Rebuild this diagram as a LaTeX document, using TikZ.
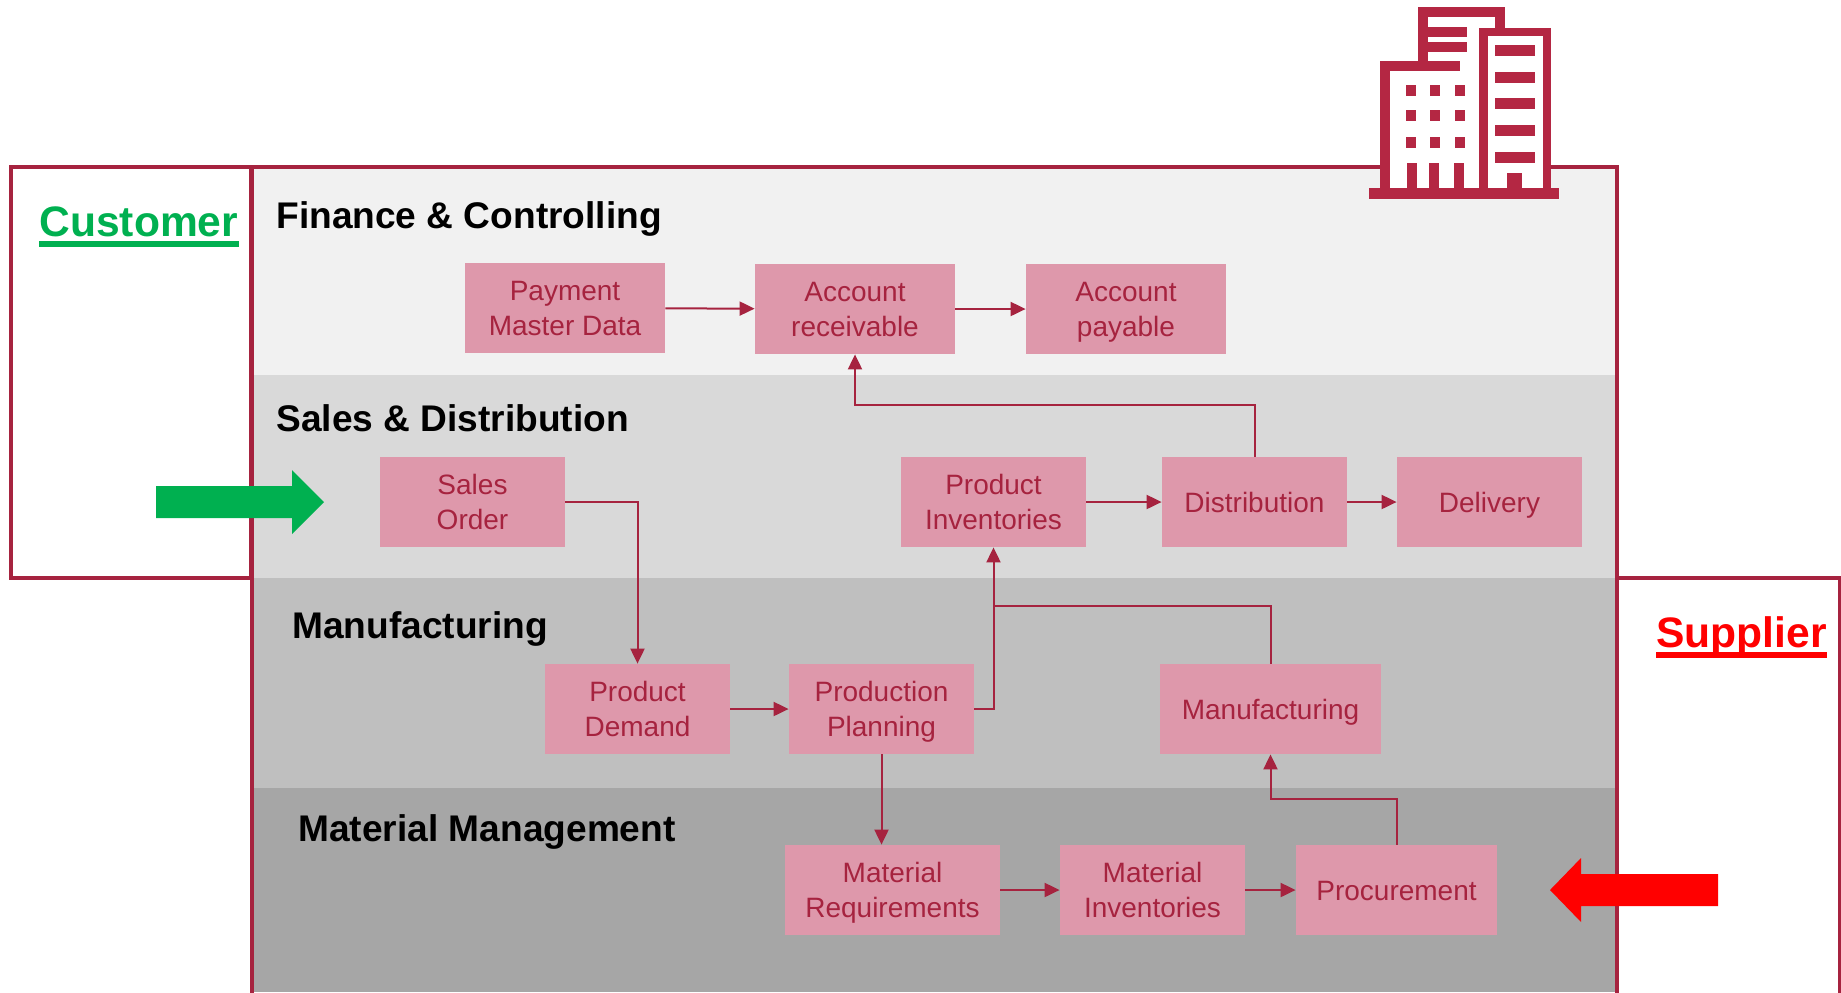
\documentclass[tikz,border=0pt]{standalone}
\usepackage{fontspec}
\setmainfont{Liberation Sans}
\usetikzlibrary{arrows.meta,positioning}
\definecolor{crimson}{HTML}{A6233F}
\definecolor{iconred}{HTML}{B42743}
\definecolor{boxpink}{HTML}{DE98AB}
\definecolor{custgreen}{HTML}{00B050}
\tikzset{
  procbox/.style={fill=boxpink,text=crimson,align=center,inner sep=0pt,minimum height=45pt,
    font=\fontsize{14pt}{17.5pt}\selectfont,execute at begin node=\rule[-3pt]{0pt}{16pt}},
  twoline/.style={procbox,execute at begin node=\rule[-3pt]{0pt}{33.5pt}},
  flow/.style={draw=crimson,line width=1pt,-{Triangle[length=7.5pt,width=7pt]}},
  frame/.style={draw=crimson,line width=2pt},
  heading/.style={anchor=base west,inner sep=0pt,font=\fontsize{18.55pt}{22pt}\selectfont\bfseries},
  partner/.style={anchor=base west,inner sep=0pt,font=\fontsize{21.3pt}{25pt}\selectfont\bfseries},
  icon/.style={fill=iconred,draw=none},
}
\begin{document}
\begin{tikzpicture}[x=0.5pt,y=-0.5pt]
  \useasboundingbox (0,0) rectangle (1841,992);
  % bands
  \fill[fill=black!5.5] (252,168) rectangle (1617,375);
  \fill[fill=black!15] (252,375) rectangle (1617,578);
  \fill[fill=black!25] (252,578) rectangle (1617,788);
  \fill[fill=black!35] (252,788) rectangle (1617,992);
  \draw[frame] (11,167) rectangle (251,578);
  \draw[frame] (252,167) rectangle (1617,1000);
  \draw[frame] (1617,578) rectangle (1840,1000);
  % band titles
  \node[heading] (finance) at (276,228) {Finance \& Controlling};
  \node[heading] (sales) at (276,431) {Sales \& Distribution};
  \node[heading] (manuf) at (292,638) {Manufacturing};
  \node[heading] (material) at (298,841) {Material Management};
  \node[partner,text=custgreen] (customer) at (39,236) {Customer};
  \node[partner,text=red] (supplier) at (1656,647) {Supplier};
  \draw[custgreen,line width=3pt] ([yshift=-4pt]customer.base west) -- ([yshift=-4pt]customer.base east);
  \draw[red,line width=3pt] ([yshift=-4pt]supplier.base west) -- ([yshift=-4pt]supplier.base east);
  % process boxes
  \node[twoline,minimum width=100pt] (paydata) at (565,308) {Payment\\Master Data};
  \node[twoline,minimum width=100pt] (receivable) at (855,309) {Account\\receivable};
  \node[twoline,minimum width=100pt] (payable) at (1126,309) {Account\\payable};
  \node[twoline,minimum width=92.5pt] (salesorder) at (472.5,502) {Sales\\Order};
  \node[twoline,minimum width=92.5pt] (prodinv) at (993.5,502) {Product\\Inventories};
  \node[procbox,minimum width=92.5pt] (distrib) at (1254.5,502) {Distribution};
  \node[procbox,minimum width=92.5pt] (delivery) at (1489.5,502) {Delivery};
  \node[twoline,minimum width=92.5pt] (demand) at (637.5,709) {Product\\Demand};
  \node[twoline,minimum width=92.5pt] (planning) at (881.5,709) {Production\\Planning};
  \node[procbox,minimum width=110.5pt] (making) at (1270.5,709) {Manufacturing};
  \node[twoline,minimum width=107.5pt] (matreq) at (892.5,890) {Material\\Requirements};
  \node[twoline,minimum width=92.5pt] (matinv) at (1152.5,890) {Material\\Inventories};
  \node[procbox,minimum width=100.5pt] (procure) at (1396.5,890) {Procurement};
  % flows
  \draw[flow] (paydata) -- (receivable);
  \draw[flow] (receivable) -- (payable);
  \draw[flow] (distrib.north) -- ++(0,-52) -| (receivable.south);
  \draw[flow] (salesorder.east) -| (demand.north);
  \draw[flow] (prodinv) -- (distrib);
  \draw[flow] (distrib) -- (delivery);
  \draw[flow] (demand) -- (planning);
  \draw[flow] (planning.east) -| (prodinv.south);
  \coordinate (joinup) at (prodinv.south |- 0,606);
  \draw[draw=crimson,line width=1pt] (making.north) |- (joinup);
  \draw[flow] (planning.south) -- (planning.south |- matreq.north);
  \draw[flow] (matreq) -- (matinv);
  \draw[flow] (matinv) -- (procure);
  \draw[flow] (procure.north) -- ++(0,-46) -| (making.south);
  % in and out arrows
  \fill[custgreen] (156,486) -- (292,486) -- (292,470) -- (324,502) -- (292,534) -- (292,518) -- (156,518) -- cycle;
  \fill[red] (1718,874) -- (1581,874) -- (1581,858) -- (1550,890) -- (1581,922) -- (1581,906) -- (1718,906) -- cycle;
  % building
  \begin{scope}[shift={(1340,0)},x=0.16667pt,y=-0.16667pt]
    \fill[white] (120,183) rectangle (634,570);
    \fill[white] (233,20) rectangle (495,183);
    \fill[icon] (233,20) rectangle (495,50);
    \fill[icon] (233,20) rectangle (264,185);
    \fill[icon] (464,20) rectangle (495,85);
    \fill[icon] (264,80) rectangle (380,110);
    \fill[icon] (264,127) rectangle (380,157);
    \fill[icon] (120,183) rectangle (360,213);
    \fill[icon] (120,183) rectangle (151,570);
    \foreach \wx in {198,270,345}
      \foreach \wy in {255,330,411}
        \fill[icon] (\wx,\wy) rectangle (\wx+30,\wy+33);
    \foreach \dx in {200,268,342}
      \fill[icon] (\dx,490) rectangle (\dx+30,570);
    \fill[icon] (417,83) rectangle (634,108);
    \fill[icon] (417,83) rectangle (443,570);
    \fill[icon] (608,83) rectangle (634,570);
    \foreach \ry in {135,216,294,375,456}
      \fill[icon] (465,\ry) rectangle (585,\ry+33);
    \fill[icon] (502,519) rectangle (547,570);
    \fill[icon] (88,565) rectangle (658,596);
  \end{scope}
\end{tikzpicture}
\end{document}
